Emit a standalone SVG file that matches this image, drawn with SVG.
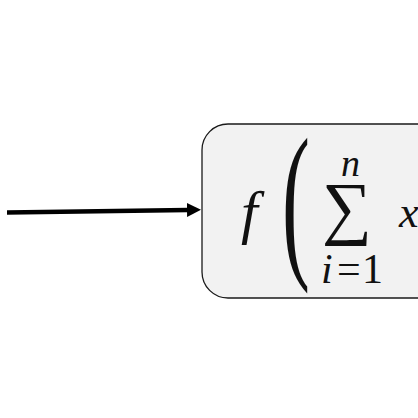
<svg xmlns="http://www.w3.org/2000/svg" width="418" height="418" viewBox="0 0 418 418">
<defs>
<style>
.box{fill:#f2f2f2;stroke:#1a1a1a;stroke-width:1.3}
</style>
<marker id="ah" markerUnits="userSpaceOnUse" markerWidth="16" markerHeight="16" viewBox="0 0 16 16" refX="1" refY="8" orient="auto">
<path d="M0,1 L14,8 L0,15 Z" fill="#000"/>
</marker>
</defs>
<rect width="418" height="418" fill="#fff"/>
<g id="connectors">
<line x1="7" y1="212.5" x2="188" y2="210" stroke="#000" stroke-width="4.5" marker-end="url(#ah)"/>
</g>
<g id="node-f" fill="#111">
<rect class="box" x="202" y="124" width="260" height="174" rx="26" ry="26"/>
<text x="241" y="232" font-size="60" style="font-family:'Liberation Serif',serif;font-style:italic">f</text>
<text transform="translate(282,257) scale(0.49,1)" x="0" y="0" font-size="171" style="font-family:'Liberation Serif',serif">(</text>
<text x="322" y="231" font-size="70" style="font-family:'Liberation Serif',serif">∑</text>
<text x="341" y="176" font-size="38" style="font-family:'Liberation Serif',serif;font-style:italic">n</text>
<text y="283" font-size="42" style="font-family:'Liberation Serif',serif"><tspan x="321" style="font-style:italic">i</tspan><tspan x="337">=</tspan><tspan x="362">1</tspan></text>
<text x="399" y="227" font-size="44" style="font-family:'Liberation Serif',serif;font-style:italic">x</text>
</g>
</svg>
